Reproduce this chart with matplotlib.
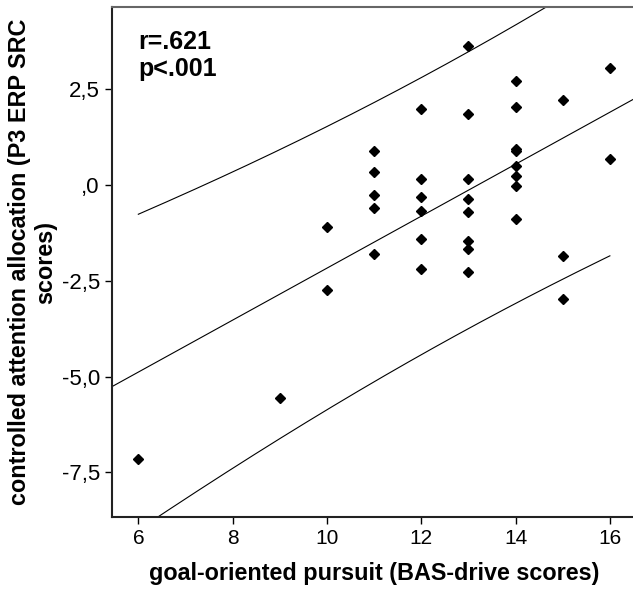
import numpy as np
import matplotlib.pyplot as plt
from matplotlib.ticker import FuncFormatter

# BAS-drive scores (x) and P3 ERP SRC scores (y)
bas_drive = [6, 9, 10, 10,
             11, 11, 11, 11, 11,
             12, 12, 12, 12, 12, 12,
             13, 13, 13, 13, 13, 13, 13, 13,
             14, 14, 14, 14, 14, 14, 14, 14,
             15, 15, 15,
             16, 16]
p3_src = [-7.16, -5.56, -1.09, -2.73,
          0.90, 0.35, -0.26, -0.61, -1.80,
          1.98, 0.16, -0.31, -0.67, -1.40, -2.19,
          3.62, 1.86, 0.16, -0.36, -0.70, -1.46, -1.66, -2.28,
          2.71, 2.04, 0.94, 0.90, 0.50, 0.24, -0.02, -0.89,
          2.23, -1.84, -2.98,
          3.05, 0.67]
stats_text = "r=.621\np<.001"
x_ticks = [6, 8, 10, 12, 14, 16]
y_ticks = [-7.5, -5.0, -2.5, 0.0, 2.5]
t_crit = 2.032  # t(0.975, df=34)

plt.rcParams['font.family'] = ['Liberation Sans', 'DejaVu Sans']


def comma_fmt(v, pos):
    if abs(v) < 1e-9:
        return ",0"
    return ("%.1f" % v).replace('.', ',')


def main():
    x = np.array(bas_drive, dtype=float)
    y = np.array(p3_src, dtype=float)
    n = len(x)
    slope, intercept = np.polyfit(x, y, 1)
    resid = y - (slope * x + intercept)
    s = np.sqrt(np.sum(resid ** 2) / (n - 2))
    sxx = np.sum((x - x.mean()) ** 2)

    fig = plt.figure(figsize=(6.33, 5.90), dpi=100)
    ax = fig.add_axes([0.1765, 0.1242, 0.829, 0.8634])

    xlim = (5.436, 16.564)
    ylim = (-8.66, 4.64)

    # fit line over the whole axis
    xf = np.linspace(xlim[0], xlim[1], 50)
    ax.plot(xf, slope * xf + intercept, color='black', lw=0.8)

    # 95% individual prediction interval over the data range
    xp = np.linspace(x.min(), x.max(), 200)
    half = t_crit * s * np.sqrt(1 + 1 / n + (xp - x.mean()) ** 2 / sxx)
    yp = slope * xp + intercept
    ax.plot(xp, yp + half, color='black', lw=0.8)
    ax.plot(xp, yp - half, color='black', lw=0.8)

    ax.plot(x, y, linestyle='none', marker='D', ms=4.8, color='black')

    ax.set_xlim(*xlim)
    ax.set_ylim(*ylim)
    ax.set_xticks(x_ticks)
    ax.set_yticks(y_ticks)
    ax.yaxis.set_major_formatter(FuncFormatter(comma_fmt))
    ax.tick_params(direction='out', length=5, width=1, colors='black')
    ax.tick_params(axis='x', labelsize=15, pad=4)
    ax.tick_params(axis='y', labelsize=16)

    ax.spines['right'].set_visible(False)
    for side in ['left', 'bottom']:
        ax.spines[side].set_color('#222222')
        ax.spines[side].set_linewidth(1.5)
    ax.spines['top'].set_color('#666666')
    ax.spines['top'].set_linewidth(1.5)

    ax.set_xlabel('goal-oriented pursuit (BAS-drive scores)', fontsize=16.8,
                  fontweight='bold', labelpad=10)
    ax.set_ylabel('controlled attention allocation (P3 ERP SRC\nscores)',
                  fontsize=16.8, fontweight='bold', labelpad=3, linespacing=1.2)

    ax.text(6, 4.05, stats_text, fontsize=18, fontweight='bold', va='top', ha='left',
            linespacing=1.15)

    fig.savefig('out.png', dpi=100)
    plt.close(fig)


if __name__ == '__main__':
    main()
